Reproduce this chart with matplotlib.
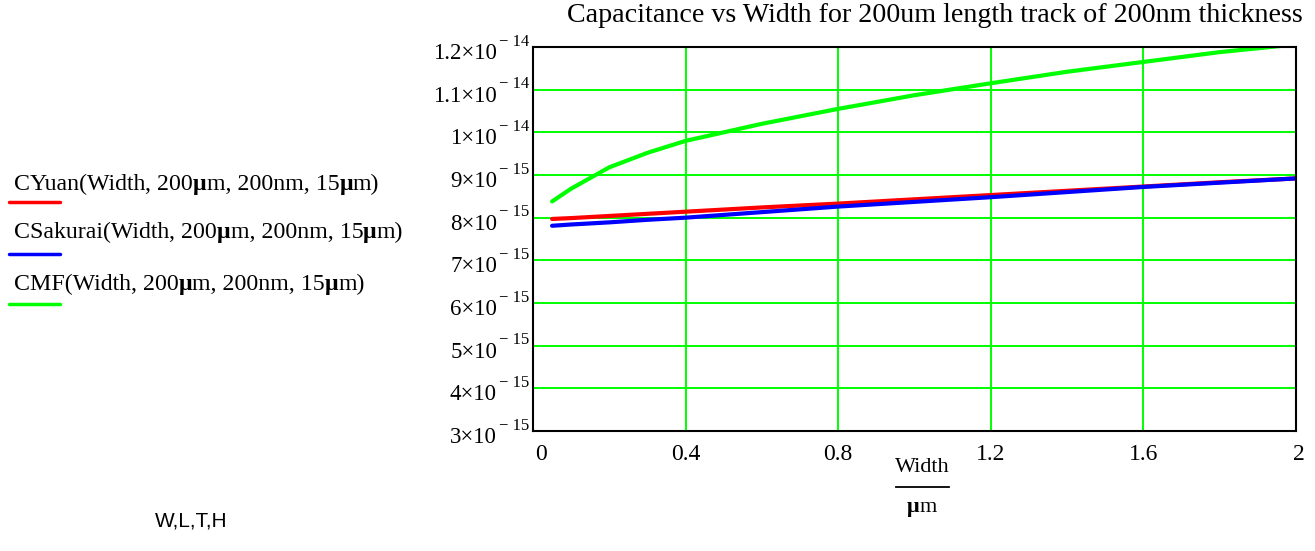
import numpy as np
import matplotlib.pyplot as plt
from matplotlib.transforms import ScaledTranslation

plt.rcParams['font.family'] = 'Liberation Serif'

# Width in um, capacitance in units of 1e-15 F
width = [0.05, 0.1, 0.2, 0.3, 0.4, 0.6, 0.8, 1.0, 1.2, 1.4, 1.6, 1.8, 2.0]
c_yuan = [7.97, 7.99, 8.04, 8.09, 8.14, 8.24, 8.33, 8.43, 8.53, 8.63, 8.73, 8.83, 8.92]
c_sakurai = [7.81, 7.84, 7.89, 7.95, 8.00, 8.13, 8.26, 8.37, 8.48, 8.60, 8.72, 8.82, 8.92]
c_mf = [8.38, 8.68, 9.18, 9.52, 9.80, 10.20, 10.55, 10.87, 11.15, 11.42, 11.65, 11.88, 12.06]

xticks = [0, 0.4, 0.8, 1.2, 1.6, 2]
xticklabels = ['0', '0.4', '0.8', '1.2', '1.6', '2']
yticks = [3, 4, 5, 6, 7, 8, 9, 10, 11, 12]
ymant = ['3', '4', '5', '6', '7', '8', '9', '1', '1.1', '1.2']
yexps = [-15] * 7 + [-14] * 3

title = 'Capacitance vs Width for 200um length track of 200nm thickness'
legend_names = ['CYuan', 'CSakurai', 'CMF']
colors = ['#ff0000', '#0000ff', '#00ff00']

W, H = 1315, 551
fig = plt.figure(figsize=(W / 100, H / 100), dpi=100)
ax = fig.add_axes([533 / W, 1 - 431 / H, 763 / W, 384 / H])

ax.plot(width, c_yuan, color=colors[0], lw=3, solid_capstyle='round', zorder=3)
ax.plot(width, c_sakurai, color=colors[1], lw=3, solid_capstyle='round', zorder=4)
ax.plot(width, c_mf, color=colors[2], lw=3, solid_capstyle='round', zorder=3)

ax.set_xlim(0, 2)
ax.set_ylim(3, 12)
ax.set_xticks(xticks)
ax.set_xticklabels(xticklabels)
ax.set_yticks(yticks)
ax.set_yticklabels([])
ax.tick_params(length=0, labelsize=17)
ax.tick_params(axis='x', pad=9)
xlabs = ax.get_xticklabels()
xlabs[0].set_transform(xlabs[0].get_transform() + ScaledTranslation(0.08, 0, fig.dpi_scale_trans))
xlabs[-1].set_transform(xlabs[-1].get_transform() + ScaledTranslation(0.03, 0, fig.dpi_scale_trans))

# y tick labels in Mathcad style: mantissa x 10 with a raised exponent
ytr = ax.get_yaxis_transform()
down = ytr + ScaledTranslation(0, -0.065, fig.dpi_scale_trans)
up = ytr + ScaledTranslation(0, 0.055, fig.dpi_scale_trans)
for v, m, e in zip(yticks, ymant, yexps):
    ax.text(-36 / 763, v, m + '\u00d710', transform=down, ha='right', va='center',
            fontsize=16.5, clip_on=False)
    ax.text(-34 / 763, v, '\u2212 %d' % -e, transform=up, ha='left', va='center',
            fontsize=12, clip_on=False)

ax.grid(True, color='#00ff00', lw=1.4, zorder=1)
for s in ax.spines.values():
    s.set_color('black')
    s.set_linewidth(1.5)
    s.set_zorder(5)

fig.text(935 / W, 1 - 15 / H, title, ha='center', va='center', fontsize=20.2)

renderer = fig.canvas.get_renderer()


def mixed_text(x, y, parts, size, ha='left'):
    # pieces of text laid out one after another on the same baseline
    arts = []
    px = x
    for s, bold in parts:
        t = fig.text(px / W, 1 - y / H, s, fontsize=size, va='baseline',
                     fontweight='bold' if bold else 'normal')
        px = t.get_window_extent(renderer).x1
        arts.append(t)
    if ha == 'center':
        shift = (px - x) / 2
        for t in arts:
            tx, ty = t.get_position()
            t.set_position((tx - shift / W, ty))
    return arts


args = [(', 200', False), ('\u03bc', True), ('m, 200nm, 15', False), ('\u03bc', True), ('m)', False)]
text_y = [190, 238, 290]
line_y = [202, 254, 304]
for name, col, ty, ly in zip(legend_names, colors, text_y, line_y):
    mixed_text(14, ty, [(name + '(Width', False)] + args, 17.2)
    fig.add_artist(plt.Line2D([9 / W, 60 / W], [1 - ly / H, 1 - ly / H], color=col, lw=2.5,
                              solid_capstyle='round'))

fig.text(922 / W, 1 - 468 / H, 'Width', ha='center', va='center', fontsize=16)
fig.add_artist(plt.Line2D([896 / W, 949 / W], [1 - 487 / H, 1 - 487 / H], color='black', lw=1.3))
mixed_text(922, 512, [('\u03bc', True), ('m', False)], 16, ha='center')

fig.text(191 / W, 1 - 521 / H, 'W,L,T,H', ha='center', va='center', fontsize=15,
         family='Liberation Sans')

fig.savefig('out.png', dpi=100)
